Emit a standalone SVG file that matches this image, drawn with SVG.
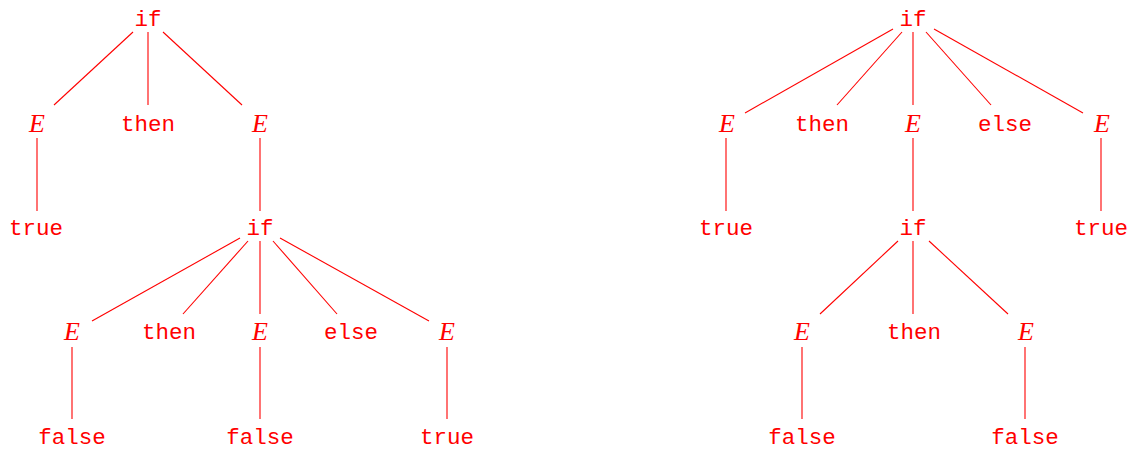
<svg xmlns="http://www.w3.org/2000/svg" width="1134" height="449" viewBox="0 0 1134 449">
<style>
.t{font-family:"Liberation Mono","DejaVu Sans Mono",monospace;font-size:22.5px;fill:#ff0000;text-anchor:middle}
.e{font-family:"Liberation Serif","DejaVu Serif",serif;font-style:italic;font-size:26px;fill:#ff0000;text-anchor:middle}
.c line{stroke:#ff0000;stroke-width:1.1}
</style>
<rect width="1134" height="449" fill="#ffffff"/>
<g class="c" id="connectors">
<line x1="133" y1="32" x2="54" y2="105"/>
<line x1="148" y1="32" x2="148" y2="105"/>
<line x1="163" y1="32" x2="242" y2="105"/>
<line x1="37" y1="138" x2="37" y2="211"/>
<line x1="260" y1="138" x2="260" y2="211"/>
<line x1="240" y1="238" x2="92" y2="321"/>
<line x1="248" y1="241" x2="183" y2="314"/>
<line x1="260" y1="241" x2="260" y2="314"/>
<line x1="273" y1="241" x2="337" y2="314"/>
<line x1="280" y1="238" x2="429" y2="321"/>
<line x1="72" y1="347" x2="72" y2="419"/>
<line x1="260" y1="347" x2="260" y2="419"/>
<line x1="447" y1="347" x2="447" y2="419"/>
<line x1="893" y1="29" x2="745" y2="113"/>
<line x1="902" y1="32" x2="837" y2="105"/>
<line x1="913" y1="32" x2="913" y2="105"/>
<line x1="926" y1="32" x2="991" y2="105"/>
<line x1="934" y1="29" x2="1083" y2="113"/>
<line x1="726" y1="138" x2="726" y2="211"/>
<line x1="913" y1="138" x2="913" y2="211"/>
<line x1="1101" y1="138" x2="1101" y2="211"/>
<line x1="898" y1="241" x2="820" y2="314"/>
<line x1="913" y1="241" x2="913" y2="314"/>
<line x1="929" y1="241" x2="1008" y2="314"/>
<line x1="802" y1="347" x2="802" y2="419"/>
<line x1="1025" y1="347" x2="1025" y2="419"/>
</g>
<g id="L_if1"><text class="t" x="148" y="26">if</text></g>
<g id="L_E1"><text class="e" x="37" y="131.5">E</text></g>
<g id="L_then1"><text class="t" x="148" y="130.5">then</text></g>
<g id="L_E2"><text class="e" x="260" y="131.5">E</text></g>
<g id="L_true1"><text class="t" x="36" y="234.5">true</text></g>
<g id="L_if2"><text class="t" x="260" y="235">if</text></g>
<g id="L_E3"><text class="e" x="72" y="340">E</text></g>
<g id="L_then2"><text class="t" x="169" y="339">then</text></g>
<g id="L_E4"><text class="e" x="260" y="340">E</text></g>
<g id="L_else1"><text class="t" x="351" y="339">else</text></g>
<g id="L_E5"><text class="e" x="447" y="340">E</text></g>
<g id="L_false1"><text class="t" x="72" y="443.5">false</text></g>
<g id="L_false2"><text class="t" x="260" y="443.5">false</text></g>
<g id="L_true2"><text class="t" x="447" y="443.5">true</text></g>
<g id="R_if1"><text class="t" x="913" y="26">if</text></g>
<g id="R_E1"><text class="e" x="727" y="131.5">E</text></g>
<g id="R_then1"><text class="t" x="822" y="130.5">then</text></g>
<g id="R_E2"><text class="e" x="913" y="131.5">E</text></g>
<g id="R_else1"><text class="t" x="1005" y="130.5">else</text></g>
<g id="R_E3"><text class="e" x="1102" y="131.5">E</text></g>
<g id="R_true1"><text class="t" x="726" y="234.5">true</text></g>
<g id="R_if2"><text class="t" x="913" y="235">if</text></g>
<g id="R_true2"><text class="t" x="1101" y="234.5">true</text></g>
<g id="R_E4"><text class="e" x="802" y="340">E</text></g>
<g id="R_then2"><text class="t" x="914" y="339">then</text></g>
<g id="R_E5"><text class="e" x="1026" y="340">E</text></g>
<g id="R_false1"><text class="t" x="802" y="443.5">false</text></g>
<g id="R_false2"><text class="t" x="1025" y="443.5">false</text></g>
</svg>
